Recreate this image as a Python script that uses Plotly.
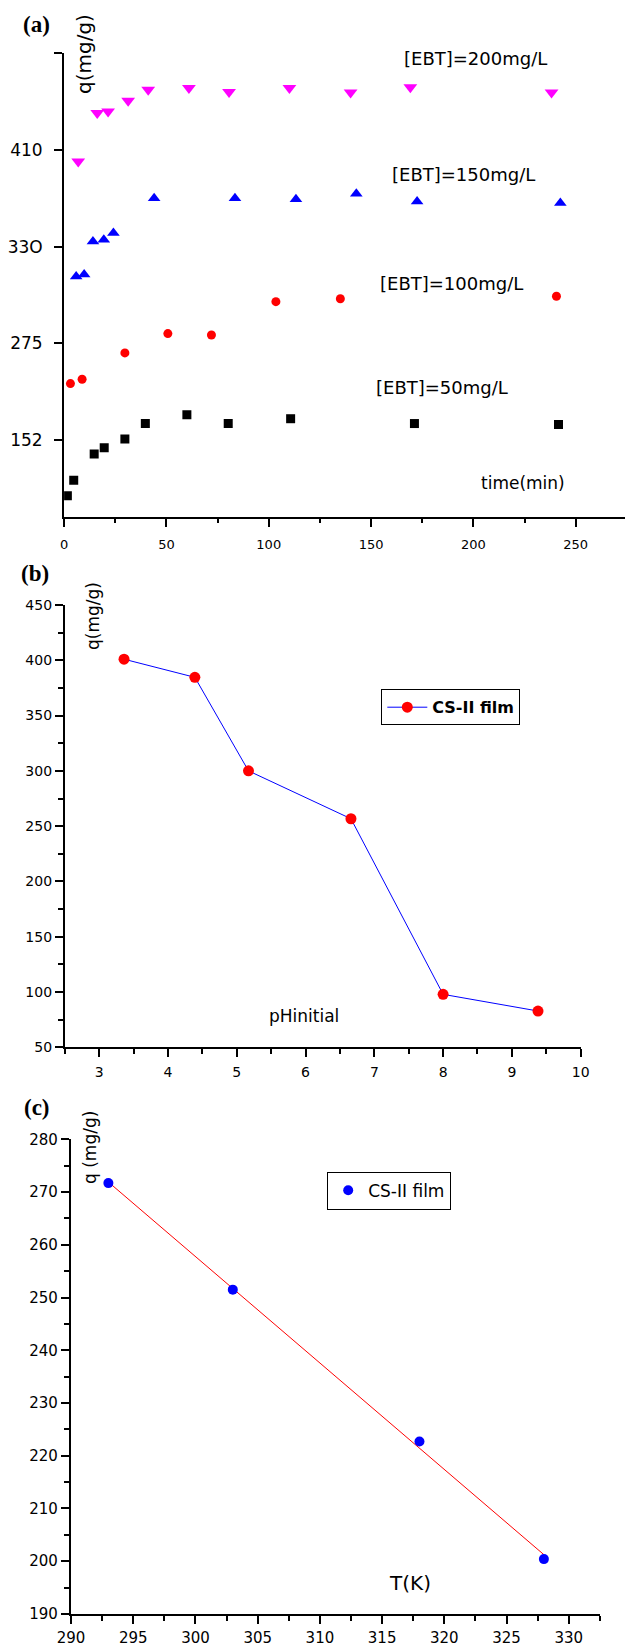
import plotly.graph_objects as go
import numpy as np

W, H = 628, 1646

# ---------------- Panel (a): kinetics ----------------
# y values are in tick-position units: the original axis labels (152, 275, 33O, 410)
# are evenly spaced, so the axis is drawn with those labels at positions 1..4.
t_50 = [1.6, 4.7, 14.7, 19.6, 29.7, 39.7, 60.0, 80.2, 110.7, 171.2, 241.6]
q_50 = [0.424, 0.583, 0.855, 0.92, 1.01, 1.17, 1.26, 1.17, 1.22, 1.17, 1.16]

t_100 = [3.1, 8.8, 29.7, 50.7, 72.0, 103.5, 135.0, 240.6]
q_100 = [1.583, 1.628, 1.90, 2.10, 2.086, 2.43, 2.46, 2.486]

t_150 = [5.9, 9.8, 14.1, 19.4, 24.1, 44.0, 83.5, 113.3, 142.8, 172.5, 242.5]
q_150 = [2.69, 2.71, 3.052, 3.07, 3.14, 3.50, 3.50, 3.49, 3.545, 3.465, 3.45]

t_200 = [6.9, 16.2, 21.5, 31.3, 41.1, 61.0, 80.6, 110.1, 140.0, 169.2, 238.2]
q_200 = [3.879, 4.380, 4.396, 4.507, 4.620, 4.638, 4.597, 4.638, 4.593, 4.648, 4.593]

a_ytick_pos = [1, 2, 3, 4, 5]
a_ytick_text = ["152", "275", "33O", "410", ""]
a_xticks = [0, 50, 100, 150, 200, 250]
a_labels = ["[EBT]=200mg/L", "[EBT]=150mg/L", "[EBT]=100mg/L", "[EBT]=50mg/L"]

# ---------------- Panel (b): pH ----------------
ph = [3.36, 4.39, 5.17, 6.66, 8.00, 9.38]
q_ph = [401, 384.6, 300, 256.7, 97.9, 82.8]

# ---------------- Panel (c): temperature ----------------
temp = [293, 303, 318, 328]
q_temp = [271.7, 251.5, 222.7, 200.4]
slope, intercept = np.polyfit(temp, q_temp, 1)
fit_x = [temp[0], temp[-1]]
fit_y = [slope * v + intercept for v in fit_x]

FONT = "DejaVu Sans"


def px(x, y):
    return x / W, 1 - y / H


fig = go.Figure()

fig.add_trace(go.Scatter(x=t_50, y=q_50, mode="markers", xaxis="x", yaxis="y",
                         marker=dict(symbol="square", size=9, color="black"), showlegend=False))
fig.add_trace(go.Scatter(x=t_100, y=q_100, mode="markers", xaxis="x", yaxis="y",
                         marker=dict(symbol="circle", size=9, color="#FF0000"), showlegend=False))
fig.add_trace(go.Scatter(x=t_150, y=q_150, mode="markers", xaxis="x", yaxis="y",
                         marker=dict(symbol="triangle-up", size=11, color="#0000FF"), showlegend=False))
fig.add_trace(go.Scatter(x=t_200, y=q_200, mode="markers", xaxis="x", yaxis="y",
                         marker=dict(symbol="triangle-down", size=12, color="#FF00FF"), showlegend=False))

fig.add_trace(go.Scatter(x=ph, y=q_ph, mode="lines+markers", xaxis="x2", yaxis="y2",
                         line=dict(color="#0000FF", width=1),
                         marker=dict(symbol="circle", size=11, color="#FF0000"),
                         name="<b>CS-II film</b>", legend="legend", showlegend=True))

fig.add_trace(go.Scatter(x=fit_x, y=fit_y, mode="lines", xaxis="x3", yaxis="y3",
                         line=dict(color="#FF0000", width=1), showlegend=False))
fig.add_trace(go.Scatter(x=temp, y=q_temp, mode="markers", xaxis="x3", yaxis="y3",
                         marker=dict(symbol="circle", size=10, color="#0000FF"),
                         name="CS-II film", legend="legend2", showlegend=True))


def ax(domain, rng, anchor, size, standoff, minor_dtick=None, **kw):
    d = dict(domain=domain, range=rng, anchor=anchor, showline=True, linecolor="black",
             linewidth=2, ticks="outside", ticklen=8, tickwidth=1.5, tickcolor="black",
             showgrid=False, zeroline=False, mirror=False, automargin=False,
             tickfont=dict(family=FONT, size=size, color="black"),
             ticklabelstandoff=standoff)
    if minor_dtick is not None:
        d["minor"] = dict(ticks="outside", ticklen=4.5, tickwidth=1.5, tickcolor="black",
                          dtick=minor_dtick, showgrid=False)
    d.update(kw)
    return d


fig.update_layout(
    width=W, height=H,
    margin=dict(l=0, r=0, t=0, b=0, pad=0, autoexpand=False),
    paper_bgcolor="white", plot_bgcolor="white",
    xaxis=ax([64.1 / W, 624.8 / W], [0, 274], "y", 13, 7, minor_dtick=25,
             tickmode="array", tickvals=a_xticks),
    yaxis=ax([1 - 516.7 / H, 1 - 53 / H], [0.207, 5.001], "x", 17, 8,
             tickmode="array", tickvals=a_ytick_pos, ticktext=a_ytick_text),
    xaxis2=ax([64.9 / W, 580.7 / W], [2.5, 10.001], "y2", 14, 3, minor_dtick=0.5,
              tickmode="linear", tick0=3, dtick=1),
    yaxis2=ax([1 - 1047.3 / H, 1 - 605 / H], [49.99, 450.01], "x2", 14, 0, minor_dtick=25,
              tickmode="linear", tick0=50, dtick=50),
    xaxis3=ax([70.9 / W, 599.9 / W], [289.99, 332.5], "y3", 15, 1, minor_dtick=2.5,
              tickmode="linear", tick0=290, dtick=5),
    yaxis3=ax([1 - 1614 / H, 1 - 1139.3 / H], [189.99, 280.01], "x3", 15, 0, minor_dtick=5,
              tickmode="linear", tick0=190, dtick=10),
    legend=dict(x=381.3 / W, y=1 - 689.3 / H, xanchor="left", yanchor="top",
                bordercolor="black", borderwidth=1, bgcolor="white",
                font=dict(family=FONT, size=16, color="black"), itemwidth=40),
    legend2=dict(x=327.2 / W, y=1 - 1171.7 / H, xanchor="left", yanchor="top",
                 bordercolor="black", borderwidth=1, bgcolor="white",
                 font=dict(family=FONT, size=17, color="black")),
)

annotations = []


def note(text, x, y, size, family=FONT, angle=0, bold=False):
    xp, yp = px(x, y)
    annotations.append(dict(text=("<b>%s</b>" % text) if bold else text, x=xp, y=yp,
                            xref="paper", yref="paper", xanchor="center", yanchor="middle",
                            showarrow=False, textangle=angle,
                            font=dict(family=family, size=size, color="black")))


# panel labels
note("(a)", 36, 25, 23, family="Liberation Serif", bold=True)
note("(b)", 35, 574, 23, family="Liberation Serif", bold=True)
note("(c)", 37, 1107, 23, family="Liberation Serif", bold=True)

# axis titles
note("q(mg/g)", 84, 54, 20, angle=-90)
note("q(mg/g)", 93, 616, 17, angle=-90)
note("q (mg/g)", 90, 1148, 17, angle=-90)
note("time(min)", 522.7, 483, 17)
note("pHinitial", 304, 1016, 17)
note("T(K)", 410, 1583, 20)

# concentration labels in (a)
a_label_pos = [(475.6, 58), (463.6, 174), (451, 284), (441.5, 387.5)]
for lab, (lx, ly) in zip(a_labels, a_label_pos):
    note(lab, lx, ly, 18)

fig.update_layout(annotations=annotations)

fig.write_html("out.html", config={"displayModeBar": False},
               post_script="document.body.style.margin='0';")
